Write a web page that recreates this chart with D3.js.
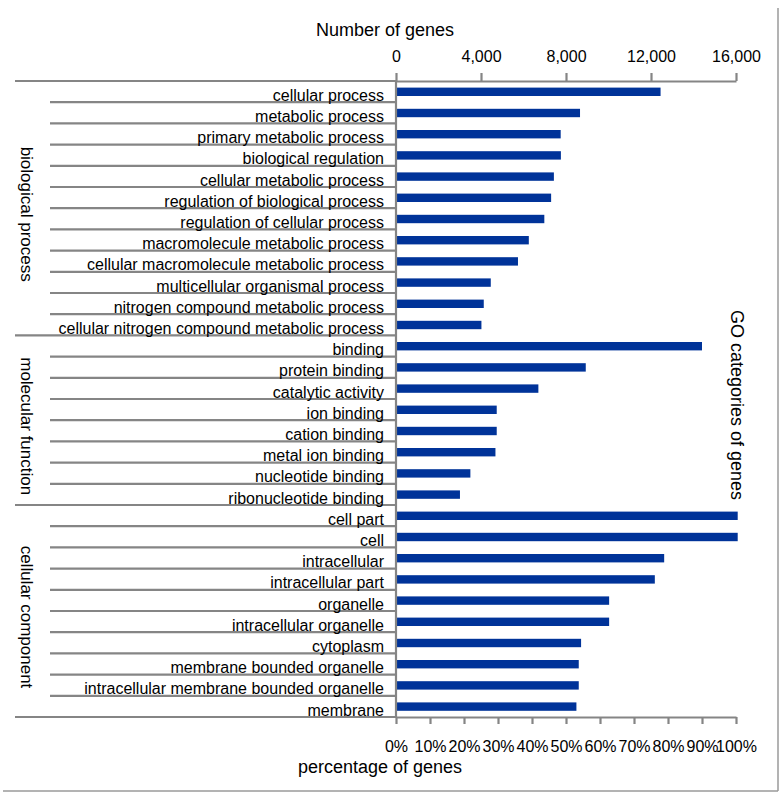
<!DOCTYPE html>
<html>
<head>
<meta charset="utf-8">
<script src="https://cdn.jsdelivr.net/npm/d3@7"></script>
<style>
  html, body { margin: 0; padding: 0; background: #fff; }
  svg { display: block; }
  text { font-family: "Liberation Sans", Arial, sans-serif; fill: #000; }
</style>
</head>
<body>
<svg id="chart" width="782" height="795"></svg>
<script>
// ---- data ----
const categories = [
  "cellular process", "metabolic process", "primary metabolic process", "biological regulation",
  "cellular metabolic process", "regulation of biological process", "regulation of cellular process",
  "macromolecule metabolic process", "cellular macromolecule metabolic process",
  "multicellular organismal process", "nitrogen compound metabolic process",
  "cellular nitrogen compound metabolic process",
  "binding", "protein binding", "catalytic activity", "ion binding", "cation binding",
  "metal ion binding", "nucleotide binding", "ribonucleotide binding",
  "cell part", "cell", "intracellular", "intracellular part", "organelle",
  "intracellular organelle", "cytoplasm", "membrane bounded organelle",
  "intracellular membrane bounded organelle", "membrane"
];
const geneCounts = [
  12450, 8660, 7750, 7760, 7430, 7300, 6980, 6250, 5740, 4460, 4130, 4020,
  14400, 8930, 6700, 4740, 4740, 4680, 3500, 3010,
  16080, 16080, 12620, 12180, 10030, 10030, 8710, 8600, 8600, 8490
];
const groupNames = ["biological process", "molecular function", "cellular component"];
const groupSizes = [12, 8, 10];
const countTicks = [0, 4000, 8000, 12000, 16000];
const percentTicks = [0, 0.1, 0.2, 0.3, 0.4, 0.5, 0.6, 0.7, 0.8, 0.9, 1.0];

// ---- layout ----
const svg = d3.select("#chart");
const x0 = 396, x1 = 736, yTop = 81, yBot = 717;
const gray = "#858585";
const barColor = "#003399";

const x = d3.scaleLinear().domain([0, 16000]).range([x0, x1]);
const xp = d3.scaleLinear().domain([0, 1]).range([x0, x1]);
const y = d3.scaleBand().domain(categories).range([yTop, yBot]).padding(0);
const step = y.step();

// frame (right + bottom)
svg.append("line").attr("x1", 778).attr("x2", 778).attr("y1", 8).attr("y2", 791)
  .attr("stroke", "#9a9a9a").attr("stroke-width", 1.5);
svg.append("line").attr("x1", 3).attr("x2", 778).attr("y1", 791).attr("y2", 791)
  .attr("stroke", "#9a9a9a").attr("stroke-width", 1.5);

// row separators
const groupStarts = [];
let acc = 0;
groupSizes.forEach(s => { groupStarts.push(acc); acc += s; });
const boundaries = d3.range(categories.length + 1);
svg.append("g").selectAll("line").data(boundaries).join("line")
  .attr("x1", i => (groupStarts.includes(i) || i === categories.length) ? 15 : 50)
  .attr("x2", x0)
  .attr("y1", i => i < categories.length ? y(categories[i]) : yBot)
  .attr("y2", i => i < categories.length ? y(categories[i]) : yBot)
  .attr("stroke", gray).attr("stroke-width", 2.2);

// category labels
svg.append("g").selectAll("text").data(categories).join("text")
  .attr("x", 384)
  .attr("y", d => y(d) + step - 1.5)
  .attr("text-anchor", "end")
  .attr("font-size", 16)
  .text(d => d);

// group labels (rotated)
svg.append("g").selectAll("text").data(groupNames).join("text")
  .attr("transform", (d, i) => {
    const a = groupStarts[i], b = a + groupSizes[i];
    const yc = (y(categories[a]) + (b < categories.length ? y(categories[b]) : yBot)) / 2 + 6;
    return `translate(27,${yc}) rotate(90)`;
  })
  .attr("text-anchor", "middle")
  .attr("dy", "0.35em")
  .attr("font-size", 17)
  .text(d => d);

// bars
svg.append("g").selectAll("rect").data(categories).join("rect")
  .attr("x", x(0))
  .attr("y", d => y(d) + step / 2 - 4)
  .attr("width", (d, i) => x(geneCounts[i]) - x(0))
  .attr("height", 8.4)
  .attr("fill", barColor);

// vertical axis line
svg.append("line").attr("x1", x0).attr("x2", x0).attr("y1", yTop).attr("y2", yBot)
  .attr("stroke", gray).attr("stroke-width", 2.2);

// top axis
const topAxis = svg.append("g").attr("transform", `translate(0,${yTop})`)
  .call(d3.axisTop(x).tickValues(countTicks).tickSize(8).tickSizeOuter(0).tickPadding(11)
    .tickFormat(d3.format(",")));
topAxis.selectAll(".domain").attr("stroke", gray).attr("stroke-width", 2.2);
topAxis.selectAll(".tick line").attr("stroke", gray).attr("stroke-width", 2.2);
topAxis.selectAll("text").attr("font-size", 16).attr("font-family", "Liberation Sans, Arial, sans-serif").attr("fill", "#000");

// bottom axis
const botAxis = svg.append("g").attr("transform", `translate(0,${yBot})`)
  .call(d3.axisBottom(xp).tickValues(percentTicks).tickSize(7).tickSizeOuter(0).tickPadding(17)
    .tickFormat(d3.format(".0%")));
botAxis.selectAll(".domain").attr("stroke", gray).attr("stroke-width", 2.2);
botAxis.selectAll(".tick line").attr("stroke", gray).attr("stroke-width", 2.2);
botAxis.selectAll("text").attr("font-size", 16).attr("font-family", "Liberation Sans, Arial, sans-serif").attr("fill", "#000");

// axis titles
svg.append("text").attr("x", 385).attr("y", 36).attr("text-anchor", "middle")
  .attr("font-size", 18).text("Number of genes");
svg.append("text").attr("x", 380).attr("y", 773).attr("text-anchor", "middle")
  .attr("font-size", 18).text("percentage of genes");
svg.append("text").attr("transform", "translate(737,405) rotate(90)")
  .attr("text-anchor", "middle").attr("dy", "0.35em")
  .attr("font-size", 18).text("GO categories of genes");
</script>
</body>
</html>
